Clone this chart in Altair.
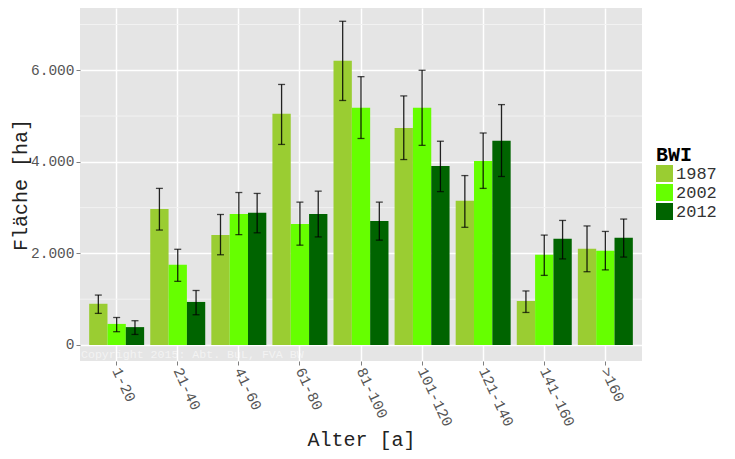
import altair as alt
import pandas as pd

categories = ["1-20", "21-40", "41-60", "61-80", "81-100", "101-120", "121-140", "141-160", ">160"]
years = ["1987", "2002", "2012"]
colors = ["#9ACD32", "#66FF00", "#006400"]

val_1987 = [900, 2970, 2400, 5050, 6210, 4740, 3150, 960, 2100]
val_2002 = [460, 1750, 2860, 2640, 5180, 5180, 4020, 1970, 2060]
val_2012 = [390, 940, 2890, 2860, 2710, 3910, 4460, 2320, 2340]

lo_1987 = [690, 2510, 1970, 4380, 5340, 4050, 2570, 710, 1600]
hi_1987 = [1090, 3420, 2850, 5690, 7070, 5440, 3700, 1180, 2600]
lo_2002 = [290, 1390, 2410, 2180, 4510, 4360, 3420, 1520, 1640]
hi_2002 = [600, 2090, 3330, 3120, 5860, 6000, 4630, 2400, 2480]
lo_2012 = [230, 660, 2450, 2360, 2290, 3350, 3680, 1880, 1920]
hi_2012 = [530, 1190, 3310, 3360, 3120, 4450, 5250, 2720, 2750]

major_ticks = [0, 2000, 4000, 6000]
minor_ticks = [1000, 3000, 5000, 7000]
copyright_text = "Copyright 2015: Abt. BuL, FVA BW"
copyright_y = -290

FONT = "Liberation Mono"

rows = []
for y, vals, los, his in [("1987", val_1987, lo_1987, hi_1987),
                          ("2002", val_2002, lo_2002, hi_2002),
                          ("2012", val_2012, lo_2012, hi_2012)]:
    for c, v, lo, hi in zip(categories, vals, los, his):
        rows.append({"Alter": c, "BWI": y, "value": v, "lo": lo, "hi": hi})
df = pd.DataFrame(rows)

yscale = alt.Scale(domain=[-350, 7360], nice=False, zero=False)
xscale = alt.Scale(paddingInner=0.1, paddingOuter=0.15)
xoff = alt.XOffset("BWI:N", sort=years, scale=alt.Scale(paddingInner=0, paddingOuter=0))

y_axis = alt.Axis(values=major_ticks, labelExpr="replace(format(datum.value, ','), ',', '.')",
                  labelFontSize=14.5, labelPadding=2, tickSize=4,
                  grid=True, gridColor="white", gridWidth=1.5,
                  titleFontSize=20, titleX=-70, titleBaseline="top",
                  domain=False)
YT = "Fläche [ha]"

x_axis = alt.Axis(labelAngle=65, labelAlign="left", labelBaseline="middle",
                  labelFontSize=15, labelPadding=3, tickSize=4,
                  bandPosition=0.5, grid=True, gridColor="white", gridWidth=1.5,
                  titleFontSize=20, titleY=84, titleBaseline="alphabetic",
                  domain=False)
XT = "Alter [a]"

minor = alt.Chart(pd.DataFrame({"m": minor_ticks})).mark_rule(
    color="#F2F2F2", strokeWidth=1
).encode(y=alt.Y("m:Q", scale=yscale, title=YT, axis=y_axis))

bars = alt.Chart(df).mark_bar().encode(
    x=alt.X("Alter:N", sort=categories, scale=xscale, title=XT, axis=x_axis),
    xOffset=xoff,
    y=alt.Y("value:Q", scale=yscale, title=YT, axis=y_axis),
    color=alt.Color("BWI:N", sort=years, scale=alt.Scale(domain=years, range=colors),
                    legend=alt.Legend(title="BWI", orient="none", legendX=576, legendY=137,
                                      titleFontSize=20, titleFontWeight="bold",
                                      labelFontSize=17, symbolType="square", symbolSize=289,
                                      symbolStrokeWidth=0, rowPadding=1, labelOffset=3,
                                      titlePadding=0, padding=0, symbolOpacity=1)),
)

err = alt.Chart(df).mark_rule(color="black", strokeWidth=1.3, opacity=0.85).encode(
    x=alt.X("Alter:N", sort=categories, scale=xscale, title=XT, axis=x_axis),
    xOffset=xoff,
    y=alt.Y("lo:Q", scale=yscale, title=YT, axis=y_axis),
    y2="hi:Q",
)
cap_lo = alt.Chart(df).mark_tick(color="black", size=7, thickness=1.3).encode(
    x=alt.X("Alter:N", sort=categories, scale=xscale, title=XT, axis=x_axis),
    xOffset=xoff,
    y=alt.Y("lo:Q", scale=yscale, title=YT, axis=y_axis),
)
cap_hi = alt.Chart(df).mark_tick(color="black", size=7, thickness=1.3).encode(
    x=alt.X("Alter:N", sort=categories, scale=xscale, title=XT, axis=x_axis),
    xOffset=xoff,
    y=alt.Y("hi:Q", scale=yscale, title=YT, axis=y_axis),
)

copy = alt.Chart(pd.DataFrame({"t": [copyright_text], "yy": [copyright_y]})).mark_text(
    align="left", baseline="alphabetic", color="white", opacity=0.55, fontSize=11.6, font=FONT
).encode(x=alt.value(1), y=alt.Y("yy:Q", scale=yscale, title=YT, axis=y_axis), text="t:N")

chart = alt.layer(minor, bars, err, cap_lo, cap_hi, copy).properties(
    width=562, height=353,
    autosize=alt.AutoSizeParams(type="none"),
    padding={"left": 72, "top": 0, "right": 85, "bottom": 90},
).configure(font=FONT).configure_view(
    fill="#E5E5E5", stroke=None
).configure_axis(
    labelColor="#555555", titleColor="#222222", tickColor="#7F7F7F",
    labelFont=FONT, titleFont=FONT, titleFontWeight="normal"
).configure_legend(
    labelFont=FONT, titleFont=FONT, labelColor="#333333", titleColor="#000000"
)

chart.save("out.html", embed_options={"renderer": "svg", "actions": False})
